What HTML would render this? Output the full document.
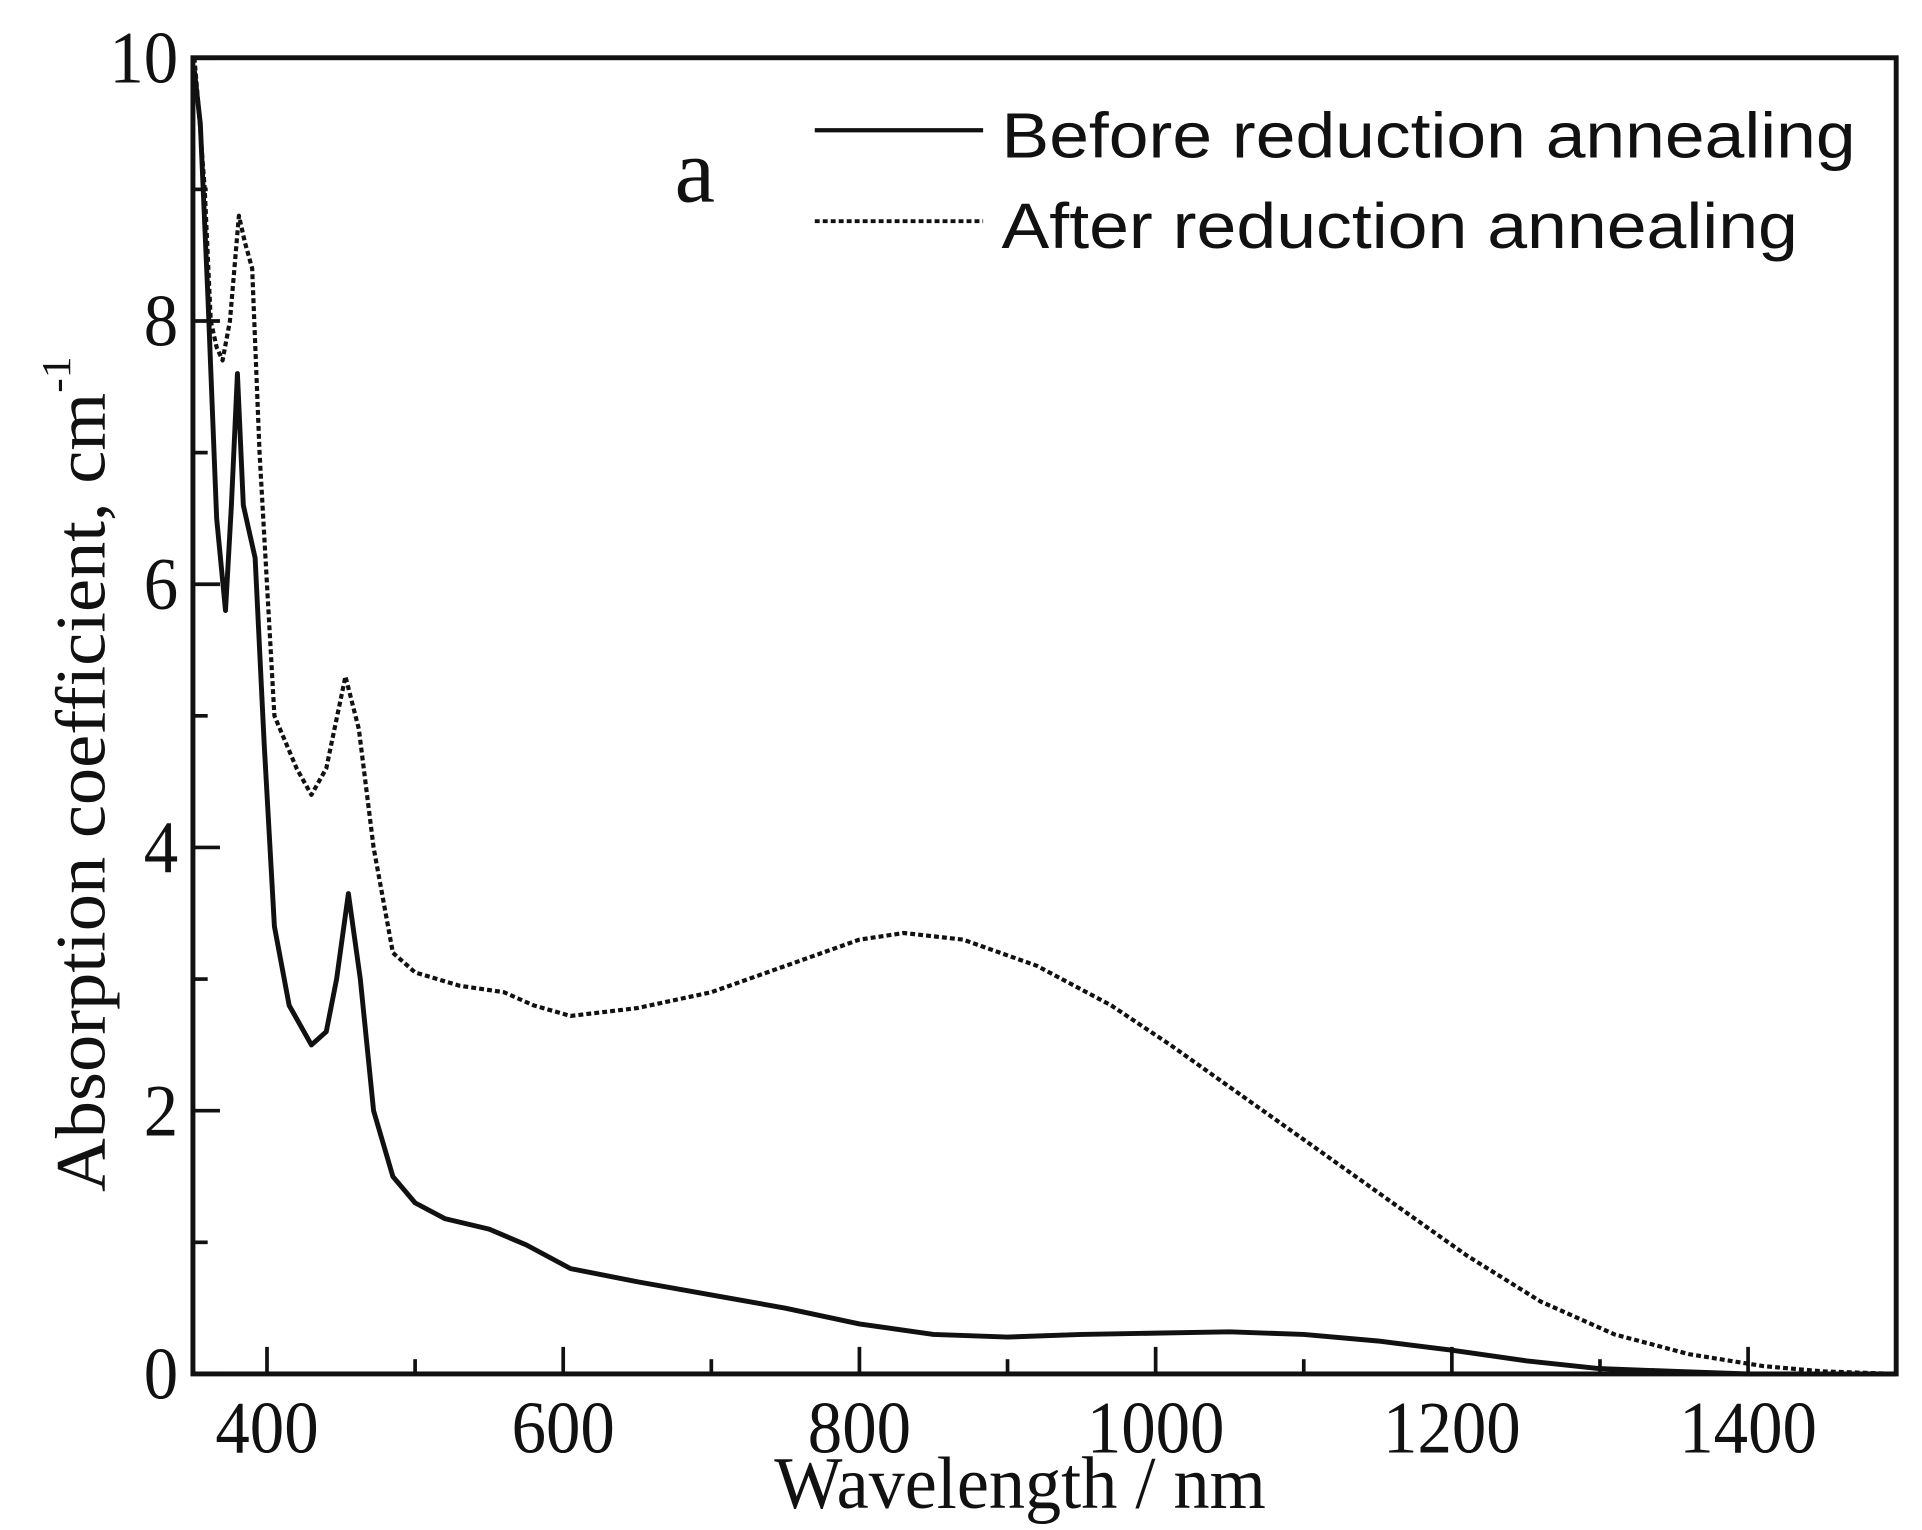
<!DOCTYPE html>
<html><head><meta charset="utf-8"><style>
html,body{margin:0;padding:0;background:#fff;}
svg{display:block;}
text{font-family:"Liberation Serif",serif;fill:#111;}
</style></head><body>
<svg id="chart" width="1922" height="1530" viewBox="0 0 1564 1245" preserveAspectRatio="none" xmlns="http://www.w3.org/2000/svg">
<g id="axes"></g>
<g id="series"></g>
<g>
  <line x1="663" y1="106" x2="800" y2="106" stroke="#111" stroke-width="3.5"/>
  <text x="815" y="128" font-size="52" style="font-family:'Liberation Sans',sans-serif" textLength="695" lengthAdjust="spacingAndGlyphs">Before reduction annealing</text>
  <line x1="663" y1="180" x2="800" y2="180" stroke="#111" stroke-width="3.2" stroke-dasharray="4 2.5"/>
  <text x="815" y="202" font-size="52" style="font-family:'Liberation Sans',sans-serif" textLength="648" lengthAdjust="spacingAndGlyphs">After reduction annealing</text>
</g>
<text x="549" y="164" font-size="74">a</text>
<text x="830" y="1227" font-size="60" text-anchor="middle" textLength="400" lengthAdjust="spacingAndGlyphs">Wavelength / nm</text>
<g transform="translate(85,630) rotate(-90)">
  <text x="0" y="0" font-size="58" text-anchor="middle" textLength="680" lengthAdjust="spacingAndGlyphs">Absorption coefficient, cm<tspan dy="-28" font-size="34">-1</tspan></text>
</g>
</svg>
<script>
const xTicks=[400,600,800,1000,1200,1400];
const xMinor=[500,700,900,1100,1300];
const yTicks=[0,2,4,6,8,10];
const yMinor=[1,3,5,7,9];
const wlBefore=[351,355,360,366,372,376,380,384,388,392,398,405,415,430,440,447,455,463,472,485,500,520,550,575,605,650,700,750,800,850,900,950,1000,1050,1100,1150,1200,1250,1300,1350,1400,1500];
const absBefore=[9.9,9.5,8.2,6.5,5.8,6.6,7.6,6.6,6.4,6.2,4.8,3.4,2.8,2.5,2.6,3.0,3.65,3.0,2.0,1.5,1.3,1.18,1.1,0.98,0.8,0.7,0.6,0.5,0.38,0.3,0.28,0.3,0.31,0.32,0.3,0.25,0.18,0.1,0.04,0.02,0.0,0.0];
const wlAfter=[351,354,358,362,366,370,375,381,385,390,395,405,420,430,440,453,462,472,485,500,530,560,580,605,650,700,750,800,830,870,920,970,1010,1060,1110,1160,1210,1260,1310,1360,1410,1450,1500];
const absAfter=[10,9.6,9.0,8.0,7.8,7.7,8.0,8.8,8.6,8.4,7.0,5.0,4.6,4.4,4.6,5.3,4.9,4.0,3.2,3.05,2.95,2.9,2.8,2.72,2.78,2.9,3.1,3.3,3.35,3.3,3.1,2.8,2.5,2.1,1.7,1.3,0.9,0.55,0.3,0.15,0.06,0.02,0.0];
const L=157,R=1543,T=47,B=1118,xMin=350,xMax=1500,yMin=0,yMax=10;
const sx=v=>L+(v-xMin)/(xMax-xMin)*(R-L);
const sy=v=>B-(v-yMin)/(yMax-yMin)*(B-T);
const NS='http://www.w3.org/2000/svg';
const axes=document.getElementById('axes'),series=document.getElementById('series');
function mk(tag,attrs,parent){const e=document.createElementNS(NS,tag);for(const k in attrs)e.setAttribute(k,attrs[k]);parent.appendChild(e);return e;}
const frame=mk('rect',{x:L,y:T,width:R-L,height:B-T,fill:'none',stroke:'#111','stroke-width':4},axes);


xTicks.forEach(v=>{
  const t=mk('line',{x1:sx(v),x2:sx(v),y1:B,y2:B-22,stroke:'#111','stroke-width':3},axes);
  
  
  const s=String(v);
  const l=mk('text',{x:sx(v),y:B+64,'font-size':60,'text-anchor':'middle',textLength:s.length*28,lengthAdjust:'spacingAndGlyphs'},axes);
  l.textContent=s;
  
  
});
xMinor.forEach(v=>{
  const t=mk('line',{x1:sx(v),x2:sx(v),y1:B,y2:B-12,stroke:'#111','stroke-width':3},axes);
  
  
});
yTicks.forEach(v=>{
  const t=mk('line',{x1:L,x2:L+22,y1:sy(v),y2:sy(v),stroke:'#111','stroke-width':3},axes);
  
  
  const s=String(v);
  const l=mk('text',{x:L-12,y:sy(v)+20,'font-size':60,'text-anchor':'end',textLength:s.length*28,lengthAdjust:'spacingAndGlyphs'},axes);
  l.textContent=s;
  
  
});
yMinor.forEach(v=>{
  const t=mk('line',{x1:L,x2:L+12,y1:sy(v),y2:sy(v),stroke:'#111','stroke-width':3},axes);
  
  
});
function path(xs,ys){return xs.map((x,i)=>(i?'L':'M')+sx(x).toFixed(1)+','+sy(ys[i]).toFixed(1)).join(' ');}
const pb=mk('path',{d:path(wlBefore,absBefore),fill:'none',stroke:'#111','stroke-width':4,'stroke-linejoin':'round'},series);


const pa=mk('path',{d:path(wlAfter,absAfter),fill:'none',stroke:'#111','stroke-width':3.4,'stroke-dasharray':'4 2.5','stroke-linejoin':'round'},series);


</script>
</body></html>
